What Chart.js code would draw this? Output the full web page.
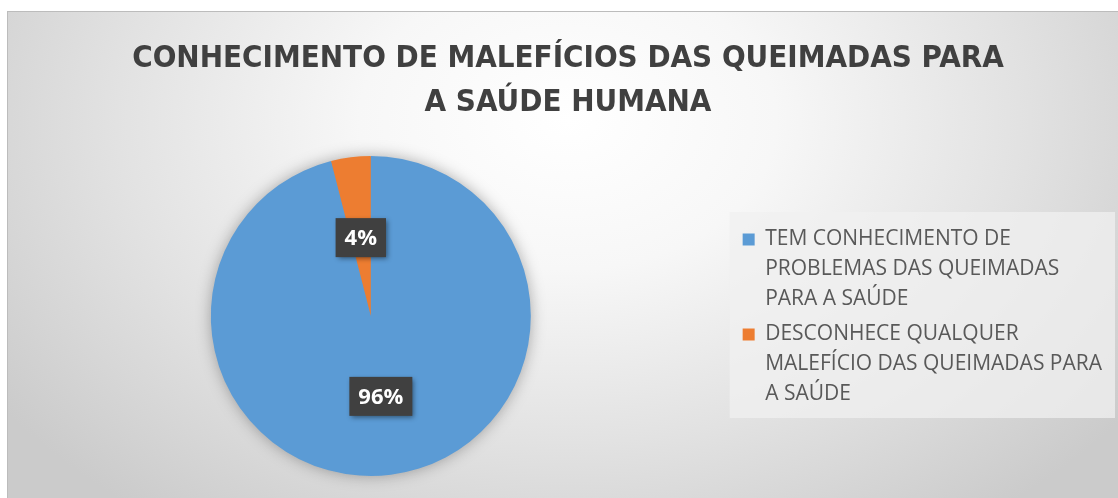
<!DOCTYPE html>
<html>
<head>
<meta charset="utf-8">
<script src="https://cdn.jsdelivr.net/npm/chart.js@4/dist/chart.umd.min.js"></script>
<style>
  html, body { margin: 0; padding: 0; background: #ffffff; width: 1118px; height: 498px; overflow: hidden; }
  #frame {
    position: absolute; left: 7px; top: 11px; width: 1120px; height: 495px;
    border-left: 1px solid #bcbcbc; border-top: 1px solid #bcbcbc;
    background: radial-gradient(ellipse 62% 100% at 50% 22%, #ffffff 0%, #f7f7f7 30%, #e2e2e2 65%, #cbcbcb 100%);
  }
  #c { position: absolute; left: -4px; top: 0px; }
</style>
</head>
<body>
<div id="frame"><canvas id="c" width="1114" height="486"></canvas></div>
<script>
const titleLines = ['CONHECIMENTO DE MALEFÍCIOS DAS QUEIMADAS PARA', 'A SAÚDE HUMANA'];
const categories = [
  ['TEM CONHECIMENTO DE', 'PROBLEMAS DAS QUEIMADAS', 'PARA A SAÚDE'],
  ['DESCONHECE QUALQUER', 'MALEFÍCIO DAS QUEIMADAS PARA', 'A SAÚDE']
];
const values = [96, 4];
const colors = ['#5B9BD5', '#ED7D31'];

const titleShift = {
  id: 'titleShift',
  afterLayout(chart) {
    const t = chart.titleBlock;
    if (t) { t.left += 10; t.right += 10; }
  }
};

const pieShadow = {
  id: 'pieShadow',
  beforeDatasetsDraw(chart) {
    const arc = chart.getDatasetMeta(0).data[0];
    if (!arc) return;
    const ctx = chart.ctx;
    ctx.save();
    ctx.shadowColor = 'rgba(0,0,0,0.35)';
    ctx.shadowBlur = 16;
    ctx.beginPath();
    ctx.arc(arc.x, arc.y, arc.outerRadius - 1, 0, Math.PI * 2);
    ctx.fillStyle = colors[0];
    ctx.fill();
    ctx.restore();
  }
};

const legendBg = {
  id: 'legendBg',
  beforeDraw(chart) {
    const lg = chart.legend;
    if (!lg || !lg.legendHitBoxes || !lg.legendHitBoxes.length) return;
    const hb = lg.legendHitBoxes;
    const ctx = chart.ctx;
    const left = lg.left - 8;
    const right = chart.width - 3;
    const top = hb[0].top - 17;
    const bottom = hb[hb.length - 1].top + 94;
    ctx.save();
    ctx.fillStyle = 'rgba(240,240,240,0.75)';
    ctx.fillRect(left, top, right - left, bottom - top);
    ctx.restore();
  }
};

const dataLabels = {
  id: 'dataLabels',
  afterDatasetsDraw(chart) {
    const meta = chart.getDatasetMeta(0);
    const ds = chart.data.datasets[0].data;
    const total = ds.reduce((a, b) => a + b, 0);
    const ctx = chart.ctx;
    meta.data.forEach((arc, i) => {
      const mid = (arc.startAngle + arc.endAngle) / 2;
      const r = arc.outerRadius * 0.5;
      const x = arc.x + Math.cos(mid) * r;
      const y = arc.y + Math.sin(mid) * r + 1;
      const txt = Math.round(ds[i] / total * 100) + '%';
      ctx.save();
      ctx.font = 'bold 22px "Open Sans", "DejaVu Sans", sans-serif';
      const w = ctx.measureText(txt).width + 18;
      const h = 39;
      ctx.shadowColor = 'rgba(0,0,0,0.45)';
      ctx.shadowBlur = 5;
      ctx.shadowOffsetX = 2;
      ctx.shadowOffsetY = 2;
      ctx.fillStyle = '#404040';
      ctx.fillRect(x - w / 2, y - h / 2, w, h);
      ctx.shadowColor = 'transparent';
      ctx.fillStyle = '#ffffff';
      ctx.textAlign = 'center';
      ctx.textBaseline = 'middle';
      ctx.fillText(txt, x, y + 1);
      ctx.restore();
    });
  }
};

new Chart(document.getElementById('c'), {
  type: 'pie',
  data: {
    labels: categories,
    datasets: [{
      data: values,
      backgroundColor: colors,
      borderWidth: 0
    }]
  },
  options: {
    responsive: false,
    animation: false,
    devicePixelRatio: 1,
    layout: { padding: { left: 0, right: 6, top: 0, bottom: 22 } },
    plugins: {
      tooltip: { enabled: false },
      title: {
        display: true,
        text: titleLines,
        color: '#404040',
        font: { family: '"Liberation Sans Narrow", "DejaVu Sans Condensed", "Open Sans", sans-serif', size: 31, weight: 'bold', lineHeight: 44 / 31 },
        padding: { top: 25, bottom: 31 }
      },
      legend: {
        position: 'right',
        fullSize: false,
        title: { display: true, text: '', font: { size: 1, lineHeight: 1 }, padding: { top: 5, bottom: 5 } },
        labels: {
          color: '#595959',
          font: { family: '"Open Sans", "DejaVu Sans", sans-serif', size: 21, lineHeight: 30 / 21 },
          boxWidth: 12,
          boxHeight: 12,
          padding: 5
        }
      }
    }
  },
  plugins: [titleShift, pieShadow, legendBg, dataLabels]
});
</script>
</body>
</html>
